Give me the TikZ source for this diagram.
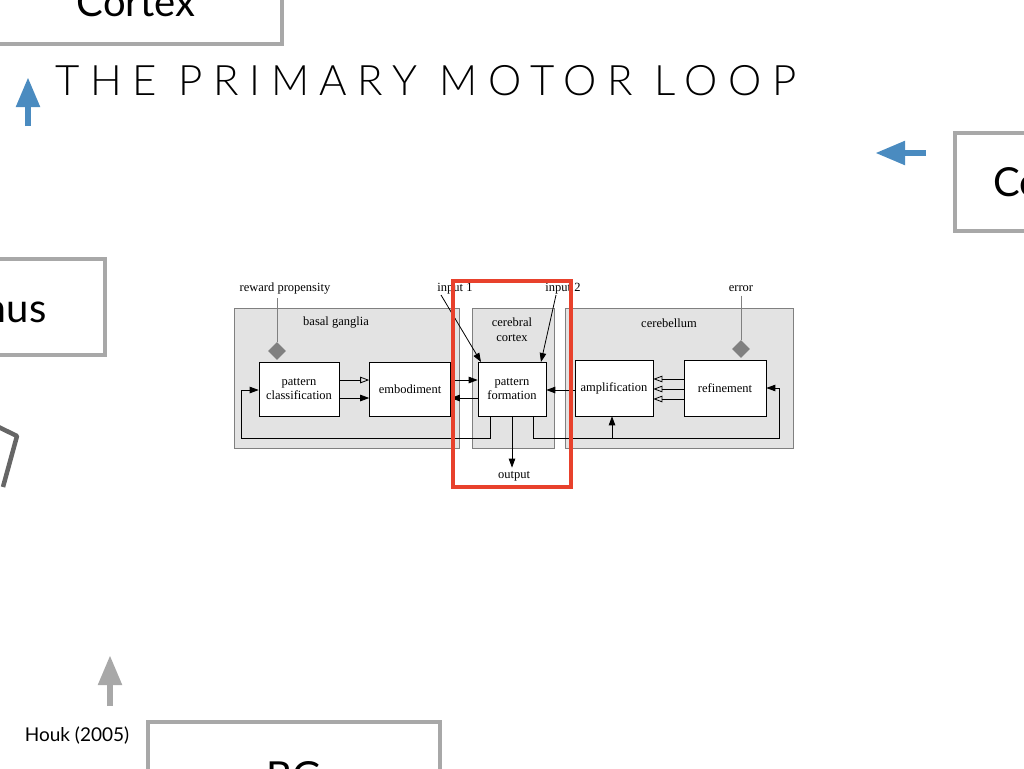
\documentclass[tikz,border=0pt]{standalone}
\usepackage{fontspec}
\setmainfont{Lato}
\newfontfamily\serifdia{Liberation Serif}
\newfontfamily\titlefont[LetterSpace=25]{Lato Light}
\usetikzlibrary{shapes,arrows,arrows.meta}
\definecolor{slidegray}{HTML}{A8A8A8}
\definecolor{slideblue}{HTML}{4A8BC0}
\definecolor{panelgray}{HTML}{E3E3E3}
\definecolor{hilite}{HTML}{E8412C}
\begin{document}
\begin{tikzpicture}[x=1pt,y=-1pt,>={Triangle[length=9pt,width=6.5pt]},
  slidebox/.style={draw=slidegray,line width=4.5pt,fill=white},
  panel/.style={draw=gray,fill=panelgray,line width=0.6pt},
  unit/.style={draw=black,fill=white,line width=0.6pt,align=center,font=\serifdia\fontsize{12.5}{13.5}\selectfont},
  lbl/.style={font=\serifdia\fontsize{12.5}{13.5}\selectfont,align=center},
  wire/.style={line width=0.8pt},
  hollow/.style={wire,-{Triangle[open,length=9pt,width=6.5pt]}}]
\useasboundingbox (0,0) rectangle (1024,768);
\begin{scope}
\clip (0,0) rectangle (1024,768);
% slide boxes
\draw[slidebox] (-10,-20) rectangle (282,44);
\node (cortex) at (136,2) {\fontsize{40}{40}\selectfont Cortex};
\draw[slidebox] (955,133) rectangle (1060,231);
\node[anchor=west] (cereb) at (990,182) {\fontsize{40}{40}\selectfont Cerebellum};
\draw[slidebox] (-10,259) rectangle (105,355);
\node[anchor=east] (thal) at (50,308) {\fontsize{40}{40}\selectfont Thalamus};
\draw[slidebox] (148,722) rectangle (440,800);
\node (bg) at (294,776) {\fontsize{40}{40}\selectfont BG};
\draw[draw=black!60,line width=4.5pt,line join=round] (-20,418) -- (17,436) -- (3,487);
% slide arrows
\draw[slideblue,line width=6pt,-{triangle 45}] (28,126) -- (28,78);
\draw[slideblue,line width=6pt,-{triangle 45}] (926,153) -- (876,153);
\draw[slidegray,line width=6pt,-{triangle 45}] (110,706) -- (110,656);
\end{scope}
\node[anchor=west] (title) at (52,81) {\titlefont\fontsize{42}{42}\selectfont THE PRIMARY MOTOR LOOP};
\node (houk) at (77,736) {\fontsize{19}{19}\selectfont Houk (2005)};
% panels
\draw[panel] (234,308) rectangle (459,448);
\draw[panel] (472,308) rectangle (554,448);
\draw[panel] (565,308) rectangle (793,448);
\node[lbl] (bglbl) at (336,323) {basal ganglia};
\node[lbl,font=\serifdia\fontsize{12.5}{15}\selectfont] (cclbl) at (512,330) {cerebral\\cortex};
\node[lbl] (cblbl) at (669,323) {cerebellum};
% units
\node[unit,minimum width=80pt,minimum height=54pt] (pc) at (299,389) {pattern\\classification};
\node[unit,minimum width=81pt,minimum height=54pt] (emb) at (410,389) {embodiment};
\node[unit,minimum width=68pt,minimum height=54pt] (pf) at (512,389) {pattern\\formation};
\node[unit,minimum width=78pt,minimum height=56pt] (amp) at (614,388) {amplification};
\node[unit,minimum width=82pt,minimum height=56pt] (ref) at (725,388) {refinement};
% external labels
\node[lbl] (reward) at (285,289) {reward propensity};
\node[lbl] (in1) at (455,289) {input 1};
\node[lbl] (in2) at (563,289) {input 2};
\node[lbl] (err) at (741,289) {error};
\node[lbl] (out) at (514,476) {output};
\coordinate (in1end) at (441,295);
\coordinate (in2end) at (556,295);
\node[diamond,fill=gray,inner sep=4.5pt] (d1) at (277,351) {};
\node[diamond,fill=gray,inner sep=4.5pt] (d2) at (741,349) {};
\draw[gray,line width=0.8pt] (reward.south-|d1) -- (d1);
\draw[gray,line width=0.8pt] (err) -- (d2);
% connections
\draw[hollow] (pc.east|-0,380) -- (emb.west|-0,380);
\draw[wire,->] (pc.east|-0,398) -- (emb.west|-0,398);
\draw[wire,->] (emb.east|-0,380) -- (pf.west|-0,380);
\draw[wire,->] (pf.west|-0,398) -- (emb.east|-0,398);
\draw[wire,->] (amp.west|-0,390) -- (pf.east|-0,390);
\foreach \yy in {379,389,399}
  \draw[hollow] (ref.west|-0,\yy) -- (amp.east|-0,\yy);
\draw[wire,->] (in1end) -- (481,362);
\draw[wire,->] (in2end) -- (541,362);
\draw[wire,->] (pf.south) -- (pf.south|-out.north);
\draw[wire,->] (490,416) -- (490,438) -- (241,438) -- (241,390) -- (pc.west|-0,390);
\draw[wire,->] (533,416) -- (533,438) -- (779,438) -- (779,388) -- (ref.east);
\draw[wire,->] (612,438) -- (amp.south-|612,0);
% highlight
\draw[hilite,line width=4pt] (453,281) rectangle (571,487);
\end{tikzpicture}
\end{document}
